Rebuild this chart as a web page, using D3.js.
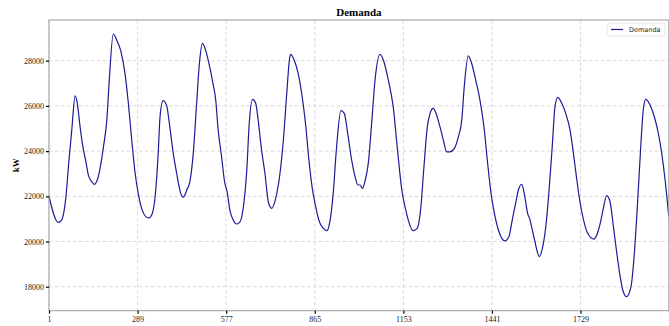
<!DOCTYPE html>
<html>
<head>
<meta charset="utf-8">
<script src="https://cdn.jsdelivr.net/npm/d3@7"></script>
<style>
  html, body { margin: 0; padding: 0; background: #fff; }
  svg { display: block; }
</style>
</head>
<body>
<svg id="chart" width="669" height="326"></svg>
<script>
const title = "Demanda";
const yLabel = "kW";
const xLabel = "Muestras";
const seriesName = "Demanda";
const xTicks = [1, 289, 577, 865, 1153, 1441, 1729];
const yTicks = [18000, 20000, 22000, 24000, 26000, 28000];

// sample number (5-min intervals) and demand in kW
const samples = [1, 31, 42, 55, 66, 75, 86, 93, 102, 113, 120, 129, 140, 148, 158, 167, 178, 189, 197, 210, 221, 235, 248, 259, 270, 281, 291, 304, 316, 326, 335, 346, 356, 362, 372, 383, 394, 405, 416, 424, 432, 438, 449, 459, 470, 481, 490, 500, 510, 521, 533, 543, 551, 562, 571, 581, 589, 600, 611, 622, 633, 644, 652, 663, 673, 681, 692, 703, 714, 725, 738, 752, 763, 774, 784, 787, 798, 811, 824, 836, 846, 857, 868, 880, 893, 904, 915, 925, 936, 950, 961, 972, 985, 996, 1005, 1012, 1020, 1028, 1039, 1050, 1061, 1077, 1088, 1104, 1120, 1133, 1148, 1161, 1169, 1185, 1198, 1209, 1220, 1231, 1240, 1250, 1261, 1272, 1283, 1294, 1305, 1319, 1332, 1343, 1351, 1364, 1375, 1388, 1402, 1415, 1426, 1438, 1449, 1462, 1483, 1496, 1507, 1518, 1527, 1538, 1546, 1557, 1565, 1570, 1581, 1587, 1595, 1605, 1616, 1626, 1637, 1646, 1655, 1668, 1681, 1695, 1706, 1717, 1728, 1739, 1750, 1772, 1782, 1793, 1802, 1814, 1825, 1836, 1847, 1858, 1868, 1879, 1893, 1904, 1915, 1926, 1933, 1941, 1955, 1969, 1982, 1993, 2004, 2016];
const demand = [22000, 20850, 20950, 21840, 23610, 24930, 26440, 26115, 25080, 24050, 23600, 22940, 22650, 22530, 22720, 23240, 24190, 25380, 27150, 29180, 28920, 28400, 27440, 26115, 24490, 23020, 22130, 21390, 21100, 21040, 21170, 21980, 23900, 25520, 26230, 26040, 25050, 23900, 23020, 22430, 22030, 21960, 22280, 22650, 23900, 26115, 27885, 28770, 28470, 27885, 27070, 26260, 24930, 23750, 22720, 22130, 21390, 20950, 20775, 20875, 21540, 23160, 25230, 26290, 26115, 25380, 24050, 23020, 21760, 21470, 21910, 23020, 24490, 26560, 28180, 28280, 28030, 27440, 26410, 25080, 23600, 22350, 21540, 20875, 20580, 20480, 20950, 22130, 24190, 25790, 25670, 24790, 23600, 22870, 22500, 22500, 22350, 22650, 23460, 25230, 27150, 28280, 28030, 27150, 25965, 24190, 22280, 21390, 20950, 20480, 20580, 21390, 23310, 25080, 25670, 25890, 25600, 25080, 24490, 23970, 23970, 24120, 24640, 25380, 26850, 28210, 27885, 27150, 26260, 25080, 23600, 22130, 21250, 20510, 20030, 20210, 20950, 21690, 22280, 22530, 22130, 21250, 20950, 20650, 19990, 19620, 19330, 19700, 20650, 22130, 24190, 25965, 26380, 26115, 25670, 24930, 23900, 22720, 21690, 20950, 20430, 20110, 20290, 20800, 21390, 22030, 21760, 20650, 19480, 18440, 17780, 17560, 18000, 19480, 21840, 24490, 25820, 26290, 26040, 25520, 24790, 23900, 22720, 21100];

const data = samples.map((s, i) => ({ s, v: demand[i] }));

const svg = d3.select("#chart");
const mLeft = 49, mRight = 668.8, mTop = 20, mBottom = 310.7;

const x = d3.scaleLinear().domain([1, 2016]).range([mLeft, mRight]);
const y = d3.scaleLinear().domain([16940, 29800]).range([mBottom, mTop]);

const serif = "'Liberation Serif', 'DejaVu Serif', serif";

// grid
const grid = svg.append("g");
grid.selectAll("line.gx").data(xTicks).enter().append("line")
  .attr("x1", d => x(d)).attr("x2", d => x(d))
  .attr("y1", mTop).attr("y2", mBottom)
  .attr("stroke", "#cfcfcf").attr("stroke-width", 0.8).attr("stroke-dasharray", "3.5,2.5");
grid.selectAll("line.gy").data(yTicks).enter().append("line")
  .attr("x1", mLeft).attr("x2", mRight)
  .attr("y1", d => y(d)).attr("y2", d => y(d))
  .attr("stroke", "#cfcfcf").attr("stroke-width", 0.8).attr("stroke-dasharray", "3.5,2.5");

// line
const line = d3.line().x(d => x(d.s)).y(d => y(d.v)).curve(d3.curveMonotoneX);
svg.append("path").datum(data)
  .attr("d", line)
  .attr("fill", "none")
  .attr("stroke", "#1c1c96")
  .attr("stroke-width", 1.2)
  .attr("stroke-linejoin", "round");

// frame
svg.append("rect").attr("x", mLeft).attr("y", mTop)
  .attr("width", mRight - mLeft).attr("height", mBottom - mTop)
  .attr("fill", "none").attr("stroke", "#9a9a9a").attr("stroke-width", 1);

// axes
const xAxis = svg.append("g").attr("transform", `translate(0,${mBottom})`)
  .call(d3.axisBottom(x).tickValues(xTicks).tickSize(3).tickPadding(3).tickFormat(d3.format("d")));
const yAxis = svg.append("g").attr("transform", `translate(${mLeft},0)`)
  .call(d3.axisLeft(y).tickValues(yTicks).tickSize(3).tickPadding(2).tickFormat(d3.format("d")));
[xAxis, yAxis].forEach(g => {
  g.select(".domain").remove();
  g.selectAll(".tick line").attr("stroke", "#000").attr("stroke-width", 1.2);
  g.selectAll(".tick text").attr("font-family", serif).attr("font-size", 8).attr("fill", "#222");
});

// title
svg.append("text").attr("x", (mLeft + mRight) / 2).attr("y", 16)
  .attr("text-anchor", "middle").attr("font-family", serif)
  .attr("font-weight", "bold").attr("font-size", 11).text(title);

// y label
svg.append("text").attr("transform", `translate(19,${(mTop + mBottom) / 2}) rotate(-90)`)
  .attr("text-anchor", "middle").attr("font-family", serif)
  .attr("font-weight", "bold").attr("font-size", 9).text(yLabel);

// x label (cut off at the bottom)
svg.append("text").attr("x", (mLeft + mRight) / 2).attr("y", 333)
  .attr("text-anchor", "middle").attr("font-family", serif)
  .attr("font-weight", "bold").attr("font-size", 10).text(xLabel);

// legend
const lg = svg.append("g").attr("transform", "translate(607,23)");
lg.append("rect").attr("width", 58).attr("height", 13).attr("rx", 1.5)
  .attr("fill", "#fff").attr("stroke", "#e0e0e0").attr("stroke-width", 0.8);
lg.append("line").attr("x1", 4).attr("x2", 16).attr("y1", 6.5).attr("y2", 6.5)
  .attr("stroke", "#1c1c96").attr("stroke-width", 1.2);
lg.append("text").attr("x", 22).attr("y", 9.2)
  .attr("font-family", "'DejaVu Sans', sans-serif").attr("font-size", 6.5).attr("fill", "#222")
  .text(seriesName);
</script>
</body>
</html>
